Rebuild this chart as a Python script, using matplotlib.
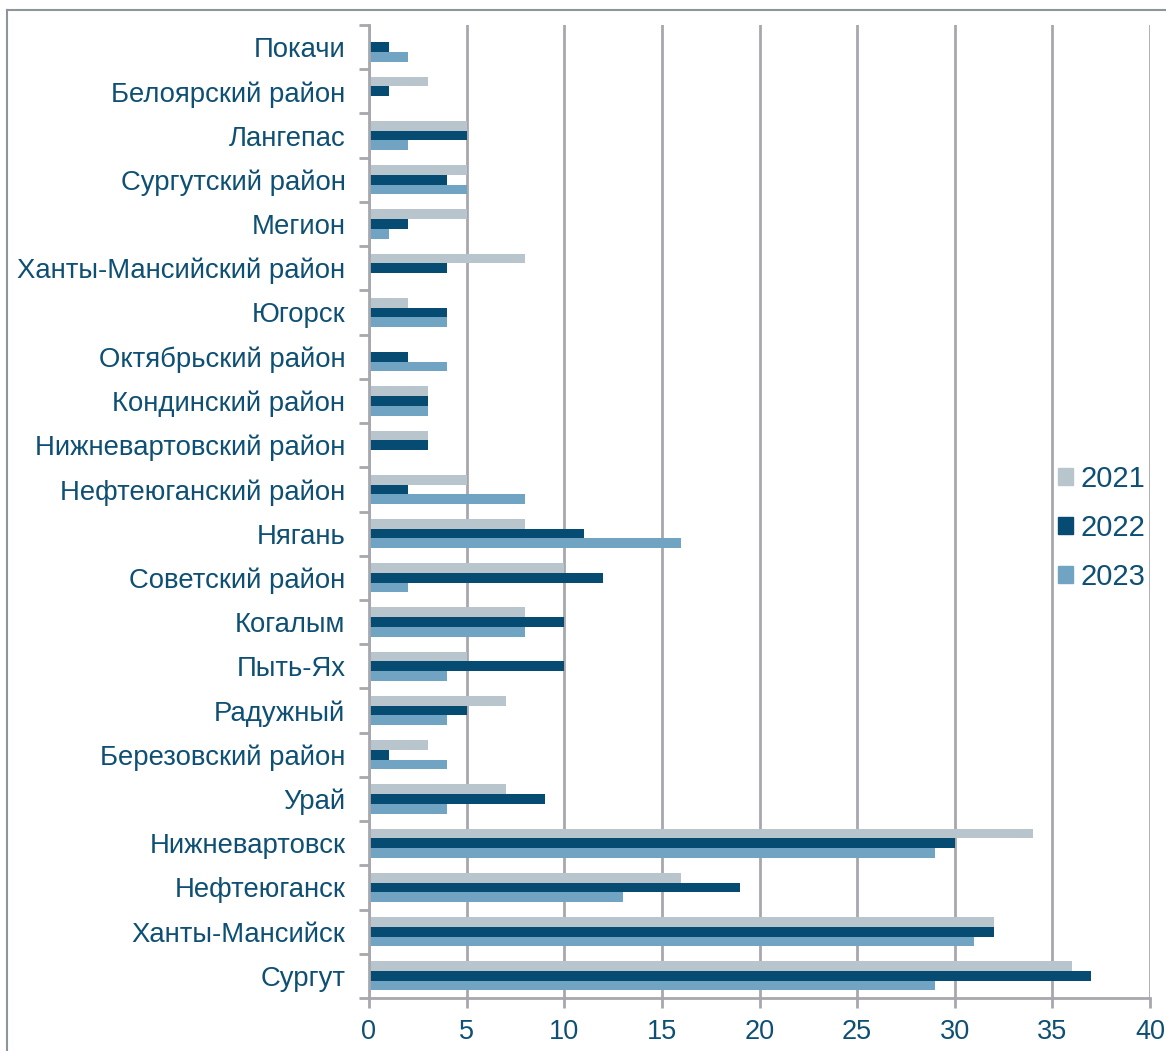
import matplotlib
matplotlib.use("Agg")
import matplotlib.pyplot as plt
import numpy as np
from matplotlib.lines import Line2D

plt.rcParams['font.family'] = ['Liberation Sans', 'DejaVu Sans']

categories = ["Покачи", "Белоярский район", "Лангепас", "Сургутский район", "Мегион",
              "Ханты-Мансийский район", "Югорск", "Октябрьский район", "Кондинский район",
              "Нижневартовский район", "Нефтеюганский район", "Нягань", "Советский район",
              "Когалым", "Пыть-Ях", "Радужный", "Березовский район", "Урай",
              "Нижневартовск", "Нефтеюганск", "Ханты-Мансийск", "Сургут"]
v2021 = [0, 3, 5, 5, 5, 8, 2, 0, 3, 3, 5, 8, 10, 8, 5, 7, 3, 7, 34, 16, 32, 36]
v2022 = [1, 1, 5, 4, 2, 4, 4, 2, 3, 3, 2, 11, 12, 10, 10, 5, 1, 9, 30, 19, 32, 37]
v2023 = [2, 0, 2, 5, 1, 0, 4, 4, 3, 0, 8, 16, 2, 8, 4, 4, 4, 4, 29, 13, 31, 29]
series_names = ["2021", "2022", "2023"]
xticks = [0, 5, 10, 15, 20, 25, 30, 35, 40]

colors = ["#B9C5CC", "#064C72", "#71A3C2"]
text_color = "#0E4F74"
grid_color = "#A7A7AE"

fig = plt.figure(figsize=(11.66, 10.51), dpi=100)
ax = fig.add_axes([369/1166, 1-998/1051, (1150-369)/1166, (998-25)/1051])

n = len(categories)
y = np.arange(n)[::-1].astype(float)  # first category at top
h = 0.22
series = [v2021, v2022, v2023]
for i, (vals, c, name) in enumerate(zip(series, colors, series_names)):
    ax.barh(y + (1 - i) * h, vals, height=h, color=c, label=name, zorder=3)

ax.set_xlim(0, 40)
ax.set_ylim(-0.5, n - 0.5)
ax.set_xticks(xticks)
ax.set_xticklabels([str(t) for t in xticks], fontsize=19.5, color=text_color)
ax.set_yticks(y)
ax.set_yticklabels(categories, fontsize=19.8, color=text_color)
ax.tick_params(axis='y', length=0, pad=17)
ax.tick_params(axis='x', length=7, width=2, color=grid_color, pad=8)
# minor ticks at category boundaries on y
ax.set_yticks(np.arange(-0.5, n, 1.0), minor=True)
ax.tick_params(axis='y', which='minor', length=7, width=2, color=grid_color)

ax.grid(axis='x', color=grid_color, linewidth=2, zorder=1)
for s in ['top', 'right']:
    ax.spines[s].set_visible(False)
for s in ['left', 'bottom']:
    ax.spines[s].set_color(grid_color)
    ax.spines[s].set_linewidth(2)
    ax.spines[s].set_zorder(4)

handles = [plt.Rectangle((0, 0), 1, 1, color=c) for c in colors]
leg = fig.legend(handles, series_names, loc='center left', bbox_to_anchor=(1058/1166, 1-528/1051),
                 frameon=False, fontsize=21, handlelength=0.5, handleheight=0.5,
                 handletextpad=0.28, labelspacing=0.72, borderpad=0, borderaxespad=0)
for t in leg.get_texts():
    t.set_color(text_color)

# outer frame
fig.add_artist(Line2D([7/1166, 7/1166], [0, 1-10/1051], color="#8C959A", linewidth=1.5))
fig.add_artist(Line2D([7/1166, 1], [1-10/1051, 1-10/1051], color="#8C959A", linewidth=1.5))

fig.savefig("out.png", dpi=100)
